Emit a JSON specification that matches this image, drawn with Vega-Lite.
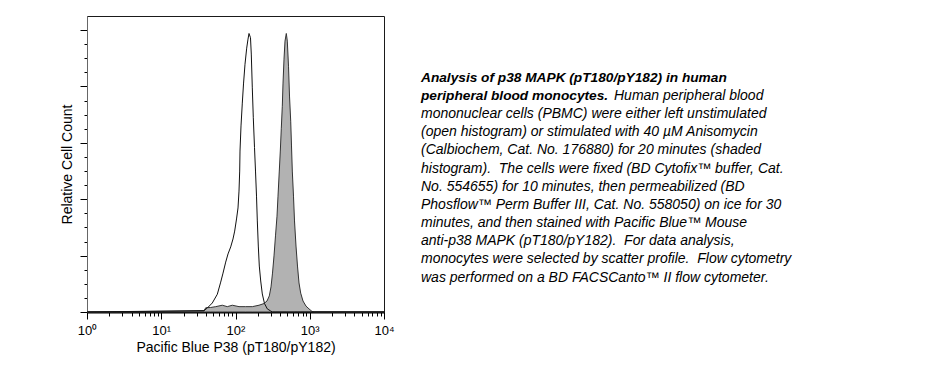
{
  "$schema": "https://vega.github.io/schema/vega-lite/v6.json",
  "background": "white",
  "padding": {"left": 60, "top": 15, "right": 5, "bottom": 5},
  "config": {"font": "Liberation Sans", "view": {"stroke": null}},
  "datasets": {
    "unstimulated": [{"fluorescence":1,"count":0},{"fluorescence":37.6,"count":0.5},{"fluorescence":41.7,"count":1.4},{"fluorescence":48.7,"count":3.2},{"fluorescence":56.9,"count":6.3},{"fluorescence":63.2,"count":10.6},{"fluorescence":67.9,"count":13.8},{"fluorescence":73.8,"count":17.7},{"fluorescence":79.3,"count":20.6},{"fluorescence":86.2,"count":23.1},{"fluorescence":92.5,"count":25.9},{"fluorescence":97.5,"count":28.7},{"fluorescence":103.2,"count":33.0},{"fluorescence":108.1,"count":36.9},{"fluorescence":111.5,"count":42.9},{"fluorescence":113.9,"count":50.0},{"fluorescence":115.0,"count":57.1},{"fluorescence":118.6,"count":66.0},{"fluorescence":123.5,"count":74.1},{"fluorescence":128.2,"count":80.9},{"fluorescence":134.3,"count":87.9},{"fluorescence":141.5,"count":93.6},{"fluorescence":147.4,"count":96.8},{"fluorescence":152.0,"count":98.8},{"fluorescence":159.2,"count":97.3},{"fluorescence":163.2,"count":91.5},{"fluorescence":168.4,"count":79.5},{"fluorescence":173.7,"count":68.9},{"fluorescence":180.3,"count":58.3},{"fluorescence":186.0,"count":50.0},{"fluorescence":191.8,"count":41.1},{"fluorescence":196.7,"count":32.3},{"fluorescence":202.8,"count":23.4},{"fluorescence":209.2,"count":16.3},{"fluorescence":218.5,"count":11.0},{"fluorescence":229.6,"count":6.4},{"fluorescence":245.8,"count":3.0},{"fluorescence":268.1,"count":1.1},{"fluorescence":298.0,"count":0.35},{"fluorescence":315,"count":0},{"fluorescence":10000,"count":0}],
    "stimulated": [{"fluorescence":1,"count":0},{"fluorescence":37.6,"count":0.35},{"fluorescence":39.7,"count":1.5},{"fluorescence":46.3,"count":1.6},{"fluorescence":54.1,"count":1.9},{"fluorescence":66.4,"count":2.4},{"fluorescence":77.5,"count":1.9},{"fluorescence":90.6,"count":2.4},{"fluorescence":111.5,"count":1.9},{"fluorescence":137.3,"count":1.9},{"fluorescence":168.4,"count":1.9},{"fluorescence":207.3,"count":2.4},{"fluorescence":242.0,"count":3.0},{"fluorescence":265.6,"count":3.9},{"fluorescence":285.3,"count":5.7},{"fluorescence":300.8,"count":8.9},{"fluorescence":315.0,"count":13.8},{"fluorescence":330.0,"count":19.9},{"fluorescence":345.7,"count":27.0},{"fluorescence":362.2,"count":34.0},{"fluorescence":373.6,"count":41.1},{"fluorescence":388.9,"count":50.0},{"fluorescence":401.2,"count":57.1},{"fluorescence":413.8,"count":65.2},{"fluorescence":426.9,"count":73.0},{"fluorescence":436.2,"count":80.9},{"fluorescence":450.0,"count":89.7},{"fluorescence":464.2,"count":96.1},{"fluorescence":483.3,"count":98.8},{"fluorescence":498.5,"count":96.1},{"fluorescence":517.4,"count":87.2},{"fluorescence":533.7,"count":76.6},{"fluorescence":554.0,"count":67.7},{"fluorescence":568.0,"count":58.9},{"fluorescence":582.1,"count":50.0},{"fluorescence":604.1,"count":41.1},{"fluorescence":623.2,"count":32.3},{"fluorescence":652.9,"count":23.4},{"fluorescence":683.9,"count":16.3},{"fluorescence":716.5,"count":10.3},{"fluorescence":755.3,"count":6.7},{"fluorescence":811.3,"count":3.9},{"fluorescence":890.2,"count":2.1},{"fluorescence":977.0,"count":1.1},{"fluorescence":1072,"count":0.2},{"fluorescence":1150,"count":0},{"fluorescence":10000,"count":0}],
    "caption": [
      {"line": 1, "part": "heading", "text": "Analysis of p38 MAPK (pT180/pY182) in human"},
      {"line": 2, "part": "heading", "text": "peripheral blood monocytes."},
      {"line": 2, "part": "body", "text": "Human peripheral blood"},
      {"line": 3, "part": "body", "text": "mononuclear cells (PBMC) were either left unstimulated"},
      {"line": 4, "part": "body", "text": "(open histogram) or stimulated with 40 µM Anisomycin"},
      {"line": 5, "part": "body", "text": "(Calbiochem, Cat. No. 176880) for 20 minutes (shaded"},
      {"line": 6, "part": "body", "text": "histogram).\u00a0 The cells were fixed (BD Cytofix™ buffer, Cat."},
      {"line": 7, "part": "body", "text": "No. 554655) for 10 minutes, then permeabilized (BD"},
      {"line": 8, "part": "body", "text": "Phosflow™ Perm Buffer III, Cat. No. 558050) on ice for 30"},
      {"line": 9, "part": "body", "text": "minutes, and then stained with Pacific Blue™ Mouse"},
      {"line": 10, "part": "body", "text": "anti-p38 MAPK (pT180/pY182).\u00a0 For data analysis,"},
      {"line": 11, "part": "body", "text": "monocytes were selected by scatter profile.\u00a0 Flow cytometry"},
      {"line": 12, "part": "body", "text": "was performed on a BD FACSCanto™ II flow cytometer."}
    ]
  },
  "spacing": 26,
  "hconcat": [
    {
      "width": 297,
      "height": 296,
      "view": {"stroke": "#1a1a1a", "strokeWidth": 1},
      "encoding": {
        "x": {
          "field": "fluorescence", "type": "quantitative",
          "scale": {"type": "log", "domain": [1, 10000], "nice": false},
          "title": "Pacific Blue P38 (pT180/pY182)",
          "axis": {
            "values": [1,2,3,4,5,6,7,8,9,10,20,30,40,50,60,70,80,90,100,200,300,400,500,600,700,800,900,1000,2000,3000,4000,5000,6000,7000,8000,9000,10000],
            "labelExpr": "datum.value == 1 ? '10⁰' : datum.value == 10 ? '10¹' : datum.value == 100 ? '10²' : datum.value == 1000 ? '10³' : datum.value == 10000 ? '10⁴' : ''",
            "tickSize": {"condition": {"test": "datum.value == 1 || datum.value == 10 || datum.value == 100 || datum.value == 1000 || datum.value == 10000", "value": 7}, "value": 4},
            "tickColor": "#000", "tickWidth": 1,
            "domainColor": "#000", "domainWidth": 2,
            "labelFontSize": 13, "labelColor": "#000", "labelFlush": false, "labelOverlap": false, "labelPadding": 5,
            "titleFontSize": 14, "titleFontWeight": "normal", "titleColor": "#000", "titlePadding": 3,
            "grid": false
          }
        },
        "y": {
          "field": "count", "type": "quantitative",
          "scale": {"domain": [0, 105], "nice": false},
          "title": "Relative Cell Count",
          "axis": {
            "values": [0,5,10,15,20,25,30,35,40,45,50,55,60,65,70,75,80,85,90,95,100],
            "labels": false,
            "tickSize": {"condition": {"test": "datum.value % 20 === 0", "value": 7}, "value": 3},
            "tickColor": "#000", "tickWidth": 1,
            "domainColor": "#666",
            "titleFontSize": 14, "titleFontWeight": "normal", "titleColor": "#000", "titlePadding": 5,
            "grid": false
          }
        }
      },
      "layer": [
        {"data": {"name": "stimulated"}, "mark": {"type": "area", "color": "#b2b2b2", "stroke": "#333", "strokeWidth": 1}},
        {"data": {"name": "unstimulated"}, "mark": {"type": "line", "color": "#111", "strokeWidth": 1}}
      ]
    },
    {
      "width": 400,
      "height": 296,
      "view": {"stroke": null},
      "data": {"name": "caption"},
      "encoding": {
        "x": {"datum": 0, "type": "quantitative", "scale": {"domain": [0, 1]}, "axis": null},
        "y": {"field": "line", "type": "quantitative", "scale": {"domain": [-2.614, 13.668], "reverse": true, "nice": false, "zero": false}, "axis": null},
        "text": {"field": "text"}
      },
      "layer": [
        {"transform": [{"filter": "datum.part === 'heading'"}], "mark": {"type": "text", "align": "left", "baseline": "alphabetic", "fontSize": 13.7, "fontStyle": "italic", "fontWeight": "bold", "color": "#000"}},
        {"transform": [{"filter": "datum.part === 'body' && datum.line !== 2"}], "mark": {"type": "text", "align": "left", "baseline": "alphabetic", "fontSize": 14, "fontStyle": "italic", "color": "#000"}},
        {"transform": [{"filter": "datum.part === 'body' && datum.line === 2"}], "mark": {"type": "text", "align": "left", "baseline": "alphabetic", "fontSize": 14, "fontStyle": "italic", "color": "#000", "dx": 193}}
      ]
    }
  ]
}
